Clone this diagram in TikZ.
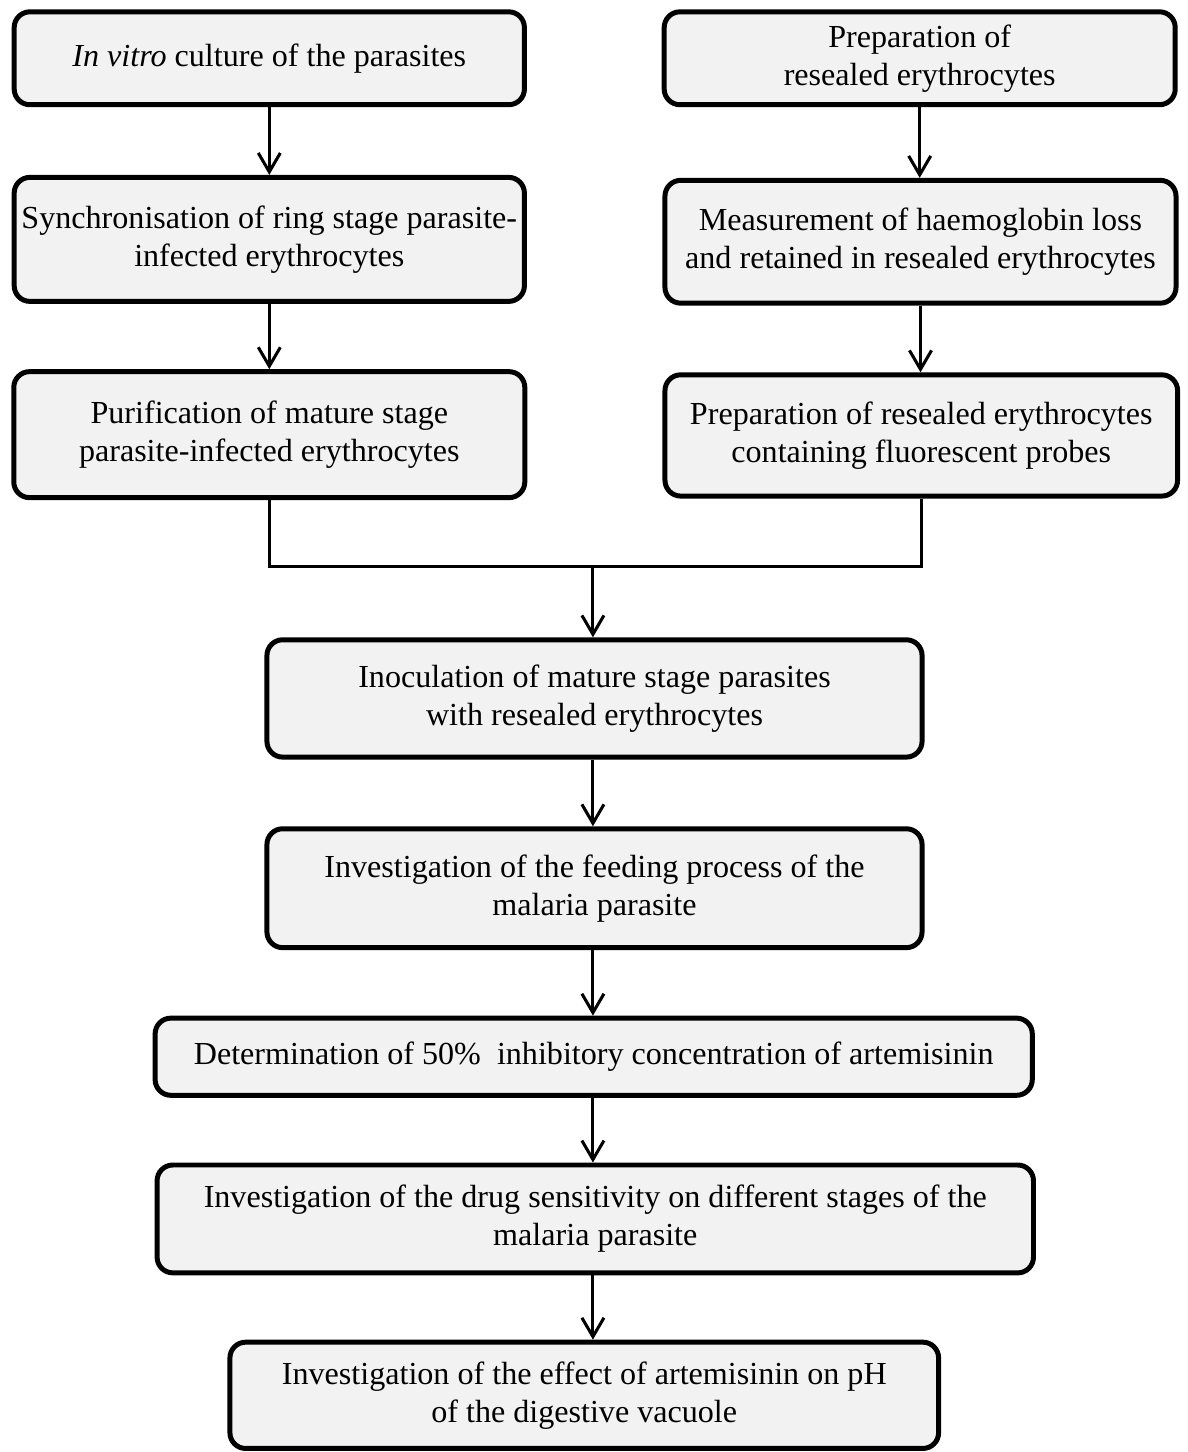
\documentclass[tikz,border=0pt]{standalone}
\usepackage{fontspec}
\setmainfont{Liberation Serif}
\usetikzlibrary{arrows.meta}
\definecolor{boxfill}{HTML}{F2F2F2}

\begin{document}
\begin{tikzpicture}[
    box/.style={rectangle, draw, line width=1.8pt, rounded corners=2mm, fill=boxfill, align=center, inner sep=0pt, font=\fontsize{11.6}{13.8}\selectfont},
    arrow/.style={-{Straight Barb[length=2.4mm, width=2.8mm]}, line width=1.1pt},
    link/.style={line width=1.1pt}
]
\useasboundingbox (0,0) rectangle (15.075,-18.44);

% Parasite side
\node[box, minimum width=6.48cm, minimum height=1.18cm] (culture) at (3.42,-0.74) {\textit{In vitro} culture of the parasites};
\node[box, minimum width=6.48cm, minimum height=1.575cm] (sync) at (3.42,-3.04) {Synchronisation of ring stage parasite-\\infected erythrocytes};
\node[box, minimum width=6.49cm, minimum height=1.6cm] (purify) at (3.42,-5.52) {Purification of mature stage\\parasite-infected erythrocytes};

\draw[arrow] (culture.south) -- (culture.south |- sync.north);
\draw[arrow] (sync.south) -- (sync.south |- purify.north);

% Resealed erythrocyte side
\node[box, minimum width=6.49cm, minimum height=1.18cm] (reseal) at (11.68,-0.74) {Preparation of\\resealed erythrocytes};
\node[box, minimum width=6.49cm, minimum height=1.56cm] (haemo) at (11.69,-3.07) {Measurement of haemoglobin loss\\and retained in resealed erythrocytes};
\node[box, minimum width=6.51cm, minimum height=1.54cm] (probes) at (11.70,-5.53) {Preparation of resealed erythrocytes\\containing fluorescent probes};

\draw[arrow] (reseal.south) -- (reseal.south |- haemo.north);
\draw[arrow] (haemo.south) -- (haemo.south |- probes.north);

% Merge
\coordinate (join) at (7.53,-7.20);
\draw[link] (purify.south) |- (join) -| (probes.south);

% Main sequence
\node[box, minimum width=8.32cm, minimum height=1.49cm] (inoc) at (7.55,-8.87) {Inoculation of mature stage parasites\\with resealed erythrocytes};
\node[box, minimum width=8.32cm, minimum height=1.51cm] (feed) at (7.55,-11.28) {Investigation of the feeding process of the\\malaria parasite};
\node[box, minimum width=11.14cm, minimum height=0.98cm] (ic50) at (7.54,-13.42) {Determination of 50\%~ inhibitory concentration of artemisinin};
\node[box, minimum width=11.13cm, minimum height=1.37cm] (drug) at (7.56,-15.48) {Investigation of the drug sensitivity on different stages of the\\malaria parasite};
\node[box, minimum width=9.0cm, minimum height=1.35cm] (ph) at (7.42,-17.72) {Investigation of the effect of artemisinin on pH\\of the digestive vacuole};

\draw[arrow] (join) -- (join |- inoc.north);
\draw[arrow] (join |- inoc.south) -- (join |- feed.north);
\draw[arrow] (join |- feed.south) -- (join |- ic50.north);
\draw[arrow] (join |- ic50.south) -- (join |- drug.north);
\draw[arrow] (join |- drug.south) -- (join |- ph.north);

\end{tikzpicture}
\end{document}
